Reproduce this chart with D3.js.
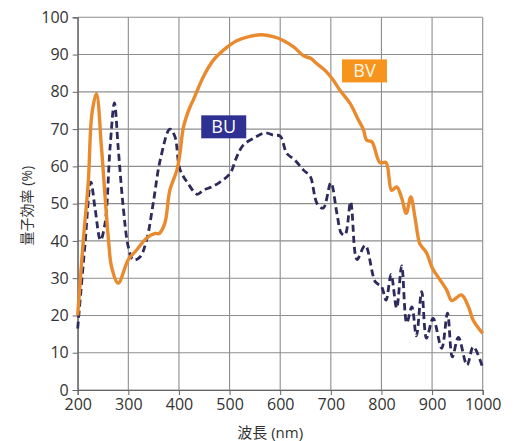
<!DOCTYPE html>
<html>
<head>
<meta charset="utf-8">
<script src="https://cdn.jsdelivr.net/npm/d3@7"></script>
<style>
  body { margin: 0; background: #fff; }
  svg text { font-family: "Open Sans", "Noto Sans CJK JP", sans-serif; }
</style>
</head>
<body>
<svg id="chart" width="517" height="441"></svg>
<script>

// wavelength (nm) / quantum efficiency (%)
var bvWave = [200, 211, 221, 228, 237, 247, 254, 261, 267, 280, 300, 316, 336, 353, 361, 372, 382, 396, 402, 409,
              422, 428, 448, 468, 488, 514, 540, 563, 586, 606, 627, 647, 660, 672, 692, 705, 718, 738, 754, 764,
              771, 781, 797, 809, 820, 830, 840, 849, 858, 866, 875, 880, 889, 901, 916, 929, 939, 958, 972, 981, 1000];
var bvQE   = [20, 40, 56, 74, 79.5, 65, 52, 40, 33, 28.7, 35, 37.5, 40.7, 42, 42, 44.7, 53.6, 59, 63.5, 70.6,
              76, 77.7, 84, 88.5, 91.2, 93.7, 94.9, 95.3, 94.8, 93.8, 92, 89.6, 89, 87.6, 85.3, 83.1, 80.4, 76.9, 72.6, 70,
              67, 66.6, 61, 61, 53.6, 54.5, 51.5, 47.4, 51.8, 46.5, 39.5, 38.4, 36.8, 32.6, 29.5, 26.8, 24, 25.5, 22.3, 18.8, 15.2];

var buWave = [200, 214, 226, 234, 245, 254, 264, 272.5, 280, 290, 300, 310, 323, 336, 349, 363, 382, 392, 402, 418,
              436, 448, 465, 481, 501, 514, 527, 547, 570, 586, 600, 613, 629, 646, 659, 673, 685, 700, 712, 721,
              728, 739, 748, 752, 768, 788, 800, 809, 819, 830, 840, 850, 860, 869, 879.5, 889, 902, 919, 930.5, 940,
              952, 969, 981.5, 1000];
var buQE   = [16.5, 38.4, 55.8, 49, 40.2, 44.7, 65.2, 77, 65, 49, 38.4, 34.9, 35.7, 40.2, 50, 61.7, 70, 68, 59.2, 55.4,
              52.5, 53.6, 54.5, 55.8, 58.1, 62.5, 65.7, 67.5, 69, 68.4, 68.1, 63.5, 61.7, 59, 57.4, 50, 48.8, 55.6, 47.4, 42,
              41.6, 50.5, 36.6, 35, 38.8, 29, 27.8, 24.1, 31, 22, 33.3, 18, 22.3, 14.5, 26.4, 13.9, 19.2, 11.2, 20.6, 8.9,
              14.1, 6.7, 11.6, 6];

var xTicks = [200, 300, 400, 500, 600, 700, 800, 900, 1000];
var yTicks = [0, 10, 20, 30, 40, 50, 60, 70, 80, 90, 100];

// series tags: [name, wavelength, QE] of the box's top-left corner
var seriesTags = [["BV", 722, 88.7], ["BU", 444, 73.7]];

var g_colorBV = "#ea8a2e";
var g_colorBU = "#2d2a5c";
var g_colorGrid = "#8e8e8e";
var g_colorText = "#333333";

var nW = 517, nH = 441;
var margin = { left: 77.7, right: 34.3, top: 17.3, bottom: 51 };

var svg = d3.select("#chart");

var x = d3.scaleLinear().domain([200, 1000]).range([margin.left, nW - margin.right]);
var y = d3.scaleLinear().domain([0, 100]).range([nH - margin.bottom, margin.top]);

// grid
svg.append("g")
    .selectAll("line.vgrid")
    .data(xTicks)
    .enter()
    .append("line")
        .attr("x1", d => x(d)).attr("x2", d => x(d))
        .attr("y1", y(0)).attr("y2", y(100))
        .attr("stroke", g_colorGrid)
        .attr("stroke-width", 1.1);

svg.append("g")
    .selectAll("line.hgrid")
    .data(yTicks)
    .enter()
    .append("line")
        .attr("x1", x(200)).attr("x2", x(1000))
        .attr("y1", d => y(d)).attr("y2", d => y(d))
        .attr("stroke", g_colorGrid)
        .attr("stroke-width", 1.1);

// axes
var xAxis = svg.append("g")
    .attr("transform", "translate(0," + y(0) + ")")
    .call(d3.axisBottom(x).tickValues(xTicks).tickFormat(d3.format("d")).tickSize(5).tickPadding(4));

var yAxis = svg.append("g")
    .attr("transform", "translate(" + x(200) + ",0)")
    .call(d3.axisLeft(y).tickValues(yTicks).tickFormat(d3.format("d")).tickSize(5).tickPadding(4));

[xAxis, yAxis].forEach(function(ax) {
    ax.select(".domain").attr("stroke", "#666").attr("stroke-width", 1.2);
    ax.selectAll(".tick line").attr("stroke", "#666");
    ax.selectAll(".tick text")
        .attr("fill", g_colorText)
        .attr("font-size", "16px")
        .style("font-family", "'Open Sans', sans-serif");
});

// curves
var line = d3.line()
    .x(d => x(d[0]))
    .y(d => y(d[1]))
    .curve(d3.curveCatmullRom.alpha(0.5));

svg.append("path")
    .datum(d3.zip(buWave, buQE))
    .attr("d", line)
    .attr("fill", "none")
    .attr("stroke", g_colorBU)
    .attr("stroke-width", 2.8)
    .attr("stroke-dasharray", "7,4");

svg.append("path")
    .datum(d3.zip(bvWave, bvQE))
    .attr("d", line)
    .attr("fill", "none")
    .attr("stroke", g_colorBV)
    .attr("stroke-width", 3.4)
    .attr("stroke-linejoin", "round");

// series tags
var tag = svg.append("g")
    .selectAll("g.tag")
    .data(seriesTags)
    .enter()
    .append("g")
        .attr("transform", d => "translate(" + x(d[1]) + "," + y(d[2]) + ")");

tag.append("rect")
    .attr("width", 45)
    .attr("height", 23)
    .attr("fill", d => d[0] == "BV" ? "#f7941d" : "#2e3192");

tag.append("text")
    .attr("x", 22.5)
    .attr("y", 18)
    .attr("text-anchor", "middle")
    .attr("font-size", "18px")
    .attr("fill", d => d[0] == "BV" ? "#fff6e6" : "#ffffff")
    .text(d => d[0]);

// axis titles
svg.append("text")
    .attr("transform", "translate(32," + ((y(0) + y(100)) / 2 + 2) + ") rotate(-90)")
    .attr("text-anchor", "middle")
    .attr("font-size", "14px")
    .attr("fill", g_colorText)
    .text("量子効率 (%)");

svg.append("text")
    .attr("x", (x(200) + x(1000)) / 2 - 10)
    .attr("y", 438)
    .attr("text-anchor", "middle")
    .attr("font-size", "15px")
    .attr("fill", g_colorText)
    .text("波長 (nm)");

</script>
</body>
</html>
